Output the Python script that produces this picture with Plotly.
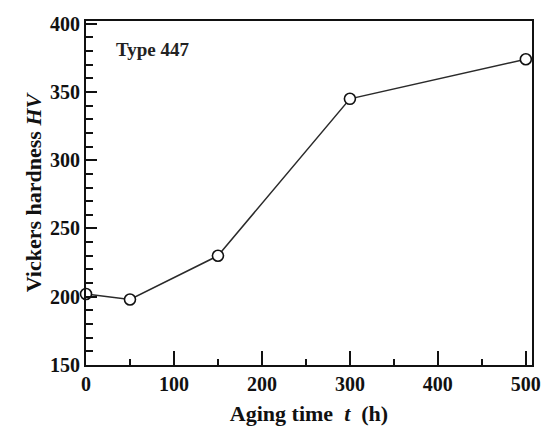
import plotly.graph_objects as go

aging_time = [0, 50, 150, 300, 500]
hardness = [202, 198, 230, 345, 374]
x_ticks = [0, 100, 200, 300, 400, 500]
y_ticks = [150, 200, 250, 300, 350, 400]

font_family = "Liberation Serif, Times New Roman, serif"

fig = go.Figure()
fig.add_trace(go.Scatter(
    x=aging_time, y=hardness, mode="lines+markers",
    line=dict(color="#2a2a2a", width=1.5),
    marker=dict(symbol="circle", size=11, color="white",
                line=dict(color="#111111", width=1.6)),
    showlegend=False, cliponaxis=False,
))

fig.add_annotation(
    x=0.062, y=0.916, xref="paper", yref="paper", xanchor="left", yanchor="middle",
    text="<b>Type 447</b>", showarrow=False,
    font=dict(family=font_family, size=19, color="#222222"),
)

axis_common = dict(
    showline=True, linecolor="#111111", linewidth=2, mirror=True,
    ticks="inside", tickcolor="#111111", showgrid=False, zeroline=False,
    tickfont=dict(family=font_family, size=20, color="#111111", weight="bold"),
)

fig.update_xaxes(
    range=[0, 507], tickvals=x_ticks, ticklen=14, tickwidth=2,
    minor=dict(dtick=50, ticks="inside", ticklen=6, tickwidth=2, tickcolor="#111111"),
    title=dict(text="<b>Aging time  <i>t</i>  (h)</b>", standoff=12,
               font=dict(family=font_family, size=22, color="#111111")),
    **axis_common,
)
fig.update_yaxes(
    range=[150, 402], tickvals=y_ticks, ticklen=11, tickwidth=2,
    minor=dict(dtick=10, ticks="inside", ticklen=7, tickwidth=2, tickcolor="#111111"),
    title=dict(text="<b>Vickers hardness <i>HV</i></b>", standoff=2,
               font=dict(family=font_family, size=22, color="#111111")),
    **axis_common,
)

fig.update_layout(
    width=549, height=439,
    margin=dict(l=86, r=8, t=21, b=74),
    plot_bgcolor="white", paper_bgcolor="white",
)

fig.write_html("out.html")
